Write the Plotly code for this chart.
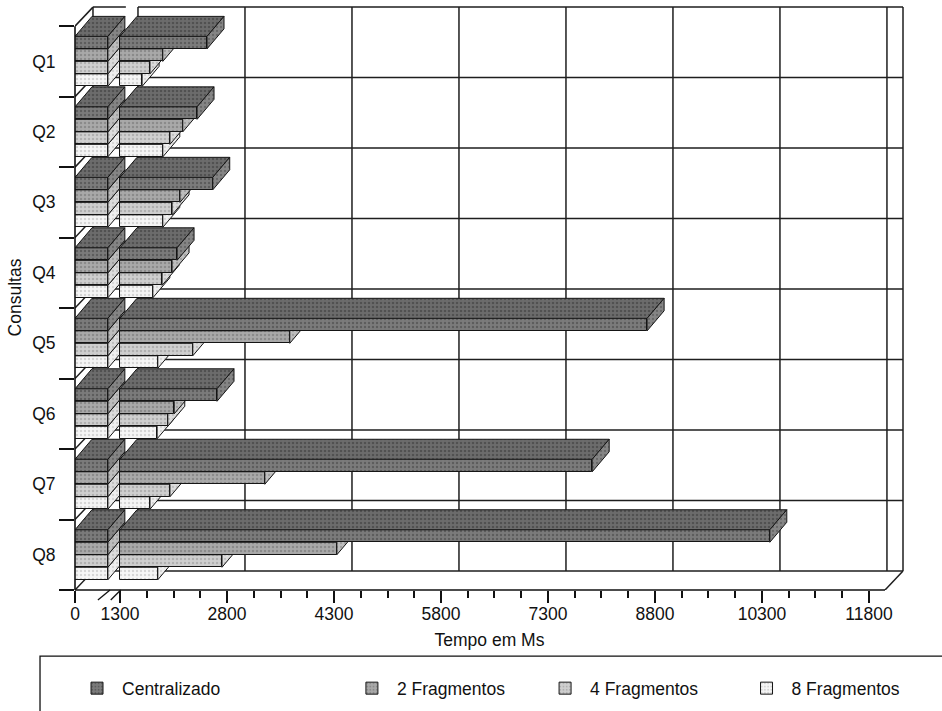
import plotly.graph_objects as go

# ---------------- data ----------------
categories = ["Q1", "Q2", "Q3", "Q4", "Q5", "Q6", "Q7", "Q8"]
series_names = ["Centralizado", "2 Fragmentos", "4 Fragmentos", "8 Fragmentos"]
centralizado = [2520, 2380, 2600, 2100, 8690, 2660, 7920, 10410]
fragmentos_2 = [1900, 2180, 2140, 2030, 3680, 2060, 3330, 4340]
fragmentos_4 = [1720, 2000, 2030, 1890, 2320, 1970, 2000, 2730]
fragmentos_8 = [1610, 1900, 1900, 1760, 1830, 1820, 1720, 1830]
x_tick_values = [0, 1300, 2800, 4300, 5800, 7300, 8800, 10300, 11800]
x_tick_labels = ["0", "1300", "2800", "4300", "5800", "7300", "8800", "10300", "11800"]
x_title = "Tempo em Ms"
y_title = "Consultas"

series_values = [centralizado, fragmentos_2, fragmentos_4, fragmentos_8]

# ---------------- layout / style constants ----------------
FONT = "Liberation Sans, Arial, sans-serif"
ZERO_POS = 669            # display position of value 0 (left of the axis break)
BREAK_LO, BREAK_HI = 1130, 1300
X_FRONT_END = 12025
X_MIN, X_MAX = ZERO_POS, 12291
Y_MAX = 8.3
WALL_DX, WALL_DY = 252, 0.27
BAR_DX, BAR_DY = 238, 0.284
BAR_H = 0.1773
GROUP = 4 * BAR_H
N = len(categories)
EDGE = "#151515"

styles = [
    dict(front="#7b7b7b", front_fg="#3e3e3e", top="#6c6c6c", top_fg="#363636", side="#858585", side_fg="#4a4a4a"),
    dict(front="#a9a9a9", front_fg="#6c6c6c", top="#9b9b9b", top_fg="#606060", side="#bdbdbd", side_fg="#808080"),
    dict(front="#cfcfcf", front_fg="#909090", top="#c0c0c0", top_fg="#848484", side="#dcdcdc", side_fg="#a0a0a0"),
    dict(front="#f5f5f5", front_fg="#b4b4b4", top="#e4e4e4", top_fg="#a8a8a8", side="#efefef", side_fg="#bababa"),
]
legend_ids = ["legend", "legend2", "legend3", "legend4"]


def px(v):
    return (v - X_MIN) / (X_MAX - X_MIN)


def py(v):
    return v / Y_MAX


def poly_xy(polys):
    xs, ys = [], []
    for p in polys:
        for (a, b) in p:
            xs.append(a)
            ys.append(b)
        xs.append(None)
        ys.append(None)
    return xs, ys


fig = go.Figure()

# ---------------- walls / grid (base layer) ----------------
gx, gy = [], []


def seg(x0, y0, x1, y1):
    gx.extend([x0, x1, None])
    gy.extend([y0, y1, None])


for t in x_tick_values[1:]:
    seg(t + WALL_DX, WALL_DY, t + WALL_DX, N + WALL_DY)
seg(X_FRONT_END + WALL_DX, WALL_DY, X_FRONT_END + WALL_DX, N + WALL_DY)
seg(ZERO_POS + WALL_DX, WALL_DY, ZERO_POS + WALL_DX, N + WALL_DY)
for k in range(N + 1):
    seg(ZERO_POS + WALL_DX, k + WALL_DY, BREAK_LO + WALL_DX, k + WALL_DY)
    seg(BREAK_HI + WALL_DX, k + WALL_DY, X_FRONT_END + WALL_DX, k + WALL_DY)
    seg(ZERO_POS, k, ZERO_POS + WALL_DX, k + WALL_DY)
seg(X_FRONT_END, 0, X_FRONT_END + WALL_DX, WALL_DY)

fig.add_trace(go.Scatter(x=gx, y=gy, mode="lines", line=dict(color="#1e1e1e", width=1.5),
                         hoverinfo="skip", showlegend=False, xaxis="x", yaxis="y"))

# ---------------- 3D bars, painted bottom bar first ----------------
axis_idx = 2
layer_axes = []
for j in reversed(range(len(series_names))):
    st = styles[j]
    vals = series_values[j]
    for part in ("stub", "main"):
        xa, ya = f"x{axis_idx}", f"y{axis_idx}"
        layer_axes.append(axis_idx)
        axis_idx += 1
        centers, bases, lengths, tops, sides = [], [], [], [], []
        for c in range(N):
            yc = (N - 1 - c) + 0.5 + GROUP / 2 - (j + 0.5) * BAR_H
            if part == "stub":
                a, b = ZERO_POS, BREAK_LO
            else:
                a, b = BREAK_HI, vals[c]
            centers.append(yc)
            bases.append(a)
            lengths.append(b - a)
            top = yc + BAR_H / 2
            tops.append([(a, top), (b, top), (b + BAR_DX, top + BAR_DY), (a + BAR_DX, top + BAR_DY), (a, top)])
            sides.append([(b, top - BAR_H), (b, top), (b + BAR_DX, top + BAR_DY),
                          (b + BAR_DX, top - BAR_H + BAR_DY), (b, top - BAR_H)])
        fig.add_trace(go.Bar(
            orientation="h", y=centers, x=lengths, base=bases, width=BAR_H,
            name=series_names[j], legend=legend_ids[j], showlegend=(part == "main"),
            marker=dict(color=st["front"], line=dict(color=EDGE, width=1),
                        pattern=dict(shape=".", fgcolor=st["front_fg"], bgcolor=st["front"],
                                     size=4, solidity=0.3)),
            hoverinfo="skip", xaxis=xa, yaxis=ya))
        tx, ty = poly_xy(tops)
        fig.add_trace(go.Scatter(
            x=tx, y=ty, mode="lines", fill="toself", fillcolor=st["top"],
            fillpattern=dict(shape=".", fgcolor=st["top_fg"], bgcolor=st["top"], size=4, solidity=0.3),
            line=dict(color=EDGE, width=1), hoverinfo="skip", showlegend=False, xaxis=xa, yaxis=ya))
        sx, sy = poly_xy(sides)
        fig.add_trace(go.Scatter(
            x=sx, y=sy, mode="lines", fill="toself", fillcolor=st["side"],
            fillpattern=dict(shape=".", fgcolor=st["side_fg"], bgcolor=st["side"], size=4, solidity=0.25),
            line=dict(color=EDGE, width=1), hoverinfo="skip", showlegend=False, xaxis=xa, yaxis=ya))

# ---------------- axes ----------------
tick_font = dict(family=FONT, size=17.5, color="#111111")
minor_x = []
v = BREAK_HI
while v < x_tick_values[-1]:
    v += 375
    if v not in x_tick_values and v < x_tick_values[-1]:
        minor_x.append(v)

layout_axes = dict(
    xaxis=dict(
        range=[X_MIN, X_MAX], tickmode="array",
        tickvals=[ZERO_POS if t == 0 else t for t in x_tick_values], ticktext=x_tick_labels,
        ticks="outside", ticklen=12, tickwidth=1.5, tickcolor="#111111",
        ticklabelstandoff=-4,
        showgrid=False, zeroline=False, showline=False, tickfont=tick_font,
        title=dict(text=x_title, font=tick_font, standoff=10),
        minor=dict(tickmode="array", tickvals=minor_x, ticks="outside", ticklen=7,
                   tickwidth=1.5, tickcolor="#111111", showgrid=False),
        fixedrange=True,
    ),
    yaxis=dict(
        range=[0, Y_MAX], tickmode="array",
        tickvals=[(N - 1 - c) + 0.5 for c in range(N)], ticktext=categories,
        ticks="outside", ticklen=15, tickcolor="rgba(0,0,0,0)",
        showgrid=False, zeroline=False, showline=False, tickfont=tick_font,
        title=dict(text=y_title, font=tick_font, standoff=6),
        minor=dict(tickmode="array", tickvals=list(range(N + 1)), ticks="outside", ticklen=15,
                   tickwidth=1.5, tickcolor="#111111", showgrid=False),
        fixedrange=True,
    ),
)
for i in layer_axes:
    layout_axes[f"xaxis{i}"] = dict(overlaying="x", anchor=f"y{i}", range=[X_MIN, X_MAX],
                                    visible=False, fixedrange=True)
    layout_axes[f"yaxis{i}"] = dict(overlaying="y", anchor=f"x{i}", range=[0, Y_MAX],
                                    visible=False, fixedrange=True)

# ---------------- frame lines, axis break, legend box ----------------
line_style = dict(color="#111111", width=1.6)
shapes = [
    dict(type="line", xref="paper", yref="paper", x0=px(ZERO_POS), y0=0, x1=px(X_FRONT_END), y1=0,
         line=line_style),
    dict(type="line", xref="paper", yref="paper", x0=0, y0=0, x1=0, y1=py(N), line=line_style),
    dict(type="line", xref="paper", yref="paper", x0=px(BREAK_LO - 140), y0=-0.017,
         x1=px(BREAK_LO + 30), y1=0.0, line=dict(color="#111111", width=1.3)),
    dict(type="line", xref="paper", yref="paper", x0=px(BREAK_HI - 130), y0=-0.017,
         x1=px(BREAK_HI + 10), y1=0.0, line=dict(color="#111111", width=1.3)),
    dict(type="rect", xref="paper", yref="paper", x0=-0.0422, y0=-0.1132, x1=1.06, y1=-0.24,
         line=dict(color="#111111", width=1.3), fillcolor="rgba(0,0,0,0)"),
]

legend_x = [-0.0036, 0.328, 0.561, 0.804]
legends = {}
for k, lid in enumerate(legend_ids):
    legends[lid] = dict(x=legend_x[k], y=-0.168, xanchor="left", yanchor="middle",
                        orientation="h", bgcolor="rgba(0,0,0,0)", borderwidth=0,
                        font=dict(family=FONT, size=17.5, color="#111111"), itemwidth=40)

fig.update_layout(
    width=942, height=711,
    margin=dict(l=75, r=38, t=5, b=121),
    paper_bgcolor="white", plot_bgcolor="white",
    font=dict(family=FONT, size=17.5, color="#111111"),
    bargap=0, barmode="overlay",
    shapes=shapes,
    **layout_axes,
    **legends,
)

fig.write_html("out.html")
